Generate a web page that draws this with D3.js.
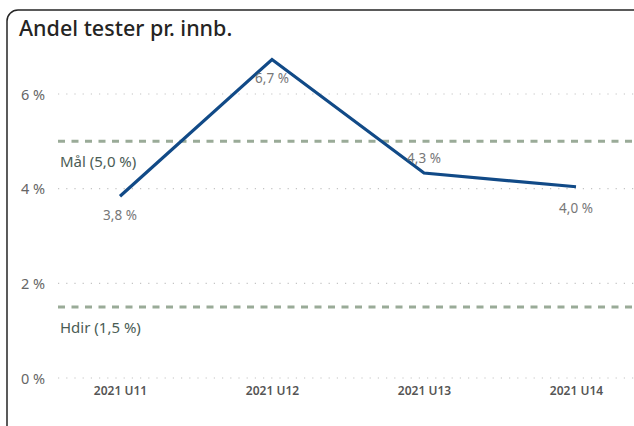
<!DOCTYPE html>
<html><head><meta charset="utf-8">
<script src="https://cdn.jsdelivr.net/npm/d3@7/dist/d3.min.js"></script>
<style>body{margin:0;background:#fff;}svg{display:block;}</style>
</head><body>
<svg id="c" width="634" height="426"></svg>
<script>
const categories = ["2021 U11", "2021 U12", "2021 U13", "2021 U14"];
const values = [3.84, 6.73, 4.33, 4.04];
const yTicks = [0, 2, 4, 6];
const refLines = [{label: "Mål (5,0 %)", value: 5.0}, {label: "Hdir (1,5 %)", value: 1.5}];
const title = "Andel tester pr. innb.";

const svg = d3.select("#c");
const font = "'Noto Sans', 'DejaVu Sans', sans-serif";
svg.append("rect").attr("x", 0).attr("y", 0).attr("width", 634).attr("height", 426).attr("fill", "#fff");
svg.append("rect").attr("x", 7).attr("y", 10).attr("width", 720).attr("height", 520).attr("rx", 11)
  .attr("fill", "none").attr("stroke", "#252525").attr("stroke-width", 1.5);

svg.append("text").attr("x", 19).attr("y", 36).text(title)
  .attr("font-family", font).attr("font-size", 21.5).attr("font-weight", 500).attr("fill", "#252423");

const x = d3.scalePoint().domain(categories).range([120, 576]);
const y = d3.scaleLinear().domain([0, 6]).range([378, 94]);
const fmt = v => d3.format(".1f")(v).replace(".", ",") + " %";

// gridlines
svg.append("g").selectAll("line").data(yTicks).join("line")
  .attr("x1", 58).attr("x2", 634).attr("y1", d => y(d)).attr("y2", d => y(d))
  .attr("stroke", "#c4c4c4").attr("stroke-width", 1.2).attr("stroke-dasharray", "1.2,7");

// y axis labels
const yAxis = d3.axisLeft(y).tickValues(yTicks).tickSize(0).tickPadding(0).tickFormat(d => d + " %");
const ya = svg.append("g").attr("transform", "translate(45,0)").call(yAxis);
ya.select(".domain").remove();
ya.selectAll("text").attr("font-family", font).attr("font-size", 14.5).attr("fill", "#666").attr("dy", "0.35em");

// x axis labels
const xAxis = d3.axisBottom(x).tickSize(0).tickPadding(0);
const xa = svg.append("g").attr("transform", "translate(0,386)").call(xAxis);
xa.select(".domain").remove();
xa.selectAll("text").attr("font-family", font).attr("font-size", 12).attr("font-weight", "600").attr("fill", "#555").attr("dy", "0.71em");

// reference lines
const rg = svg.append("g");
rg.selectAll("line").data(refLines).join("line")
  .attr("x1", 58).attr("x2", 634).attr("y1", d => y(d.value)).attr("y2", d => y(d.value))
  .attr("stroke", "#9aab98").attr("stroke-width", 3).attr("stroke-dasharray", "7,6.5");
rg.selectAll("text").data(refLines).join("text")
  .attr("x", 60).attr("y", d => y(d.value) + 26).text(d => d.label)
  .attr("font-family", font).attr("font-size", 15).attr("fill", "#4a5c55");

// line
const line = d3.line().x((d, i) => x(categories[i])).y(d => y(d));
svg.append("path").datum(values).attr("d", line).attr("fill", "none")
  .attr("stroke", "#114a87").attr("stroke-width", 3.2).attr("stroke-linejoin", "miter");

// data labels
const offsets = [24, 24, -10, 26];
svg.append("g").selectAll("text").data(values).join("text")
  .attr("x", (d, i) => x(categories[i])).attr("y", (d, i) => y(d) + offsets[i])
  .attr("text-anchor", "middle").text(d => fmt(d))
  .attr("font-family", font).attr("font-size", 13.5).attr("fill", "#777");
</script>
</body></html>
